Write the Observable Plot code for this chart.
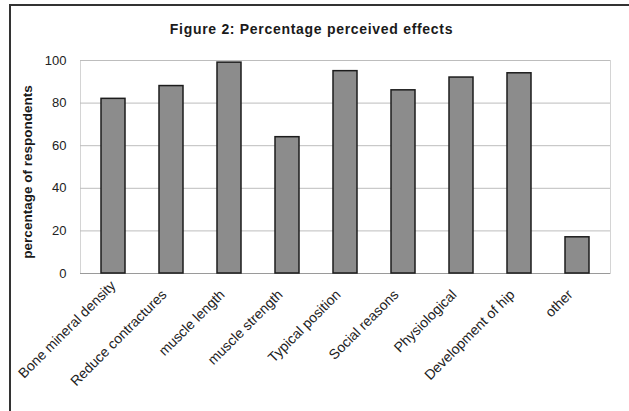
<!DOCTYPE html>
<html>
<head>
<meta charset="utf-8">
<script src="https://cdn.jsdelivr.net/npm/d3@7"></script>
<script src="https://cdn.jsdelivr.net/npm/@observablehq/plot@0.6"></script>
<style>
  html, body { margin: 0; padding: 0; background: #fff; }
  #wrap { position: relative; width: 629px; height: 411px; overflow: hidden; background: #fff; font-family: "Liberation Sans", Arial, sans-serif; }
  #border { position: absolute; left: 9px; top: 4px; width: 640px; height: 420px; border-left: 2px solid #333; border-top: 2px solid #333; box-sizing: border-box; }
  #title { position: absolute; left: 0; width: 623px; top: 21px; text-align: center; font-weight: bold; font-size: 14px; letter-spacing: 0.7px; color: #1a1a1a; }
  #chart { position: absolute; left: 0; top: 0; }
</style>
</head>
<body>
<div id="wrap">
  <div id="chart"></div>
  <div id="border"></div>
  <div id="title">Figure 2: Percentage perceived effects</div>
</div>
<script>
// Perceived effects and the share of respondents reporting each
const categories = [
  "Bone mineral density",
  "Reduce contractures",
  "muscle length",
  "muscle strength",
  "Typical position",
  "Social reasons",
  "Physiological",
  "Development of hip",
  "other"
];
const percentages = [82, 88, 99, 64, 95, 86, 92, 94, 17];
const yTicks = [0, 20, 40, 60, 80, 100];
const yLabel = "percentage of respondents";

const rows = categories.map((c, i) => ({category: c, value: percentages[i]}));
const font = "Liberation Sans, Arial, sans-serif";

const chart = Plot.plot({
  width: 629,
  height: 411,
  marginTop: 60,
  marginBottom: 138,
  marginLeft: 80,
  marginRight: 19,
  style: {fontFamily: font, background: "transparent", color: "#1a1a1a"},
  x: {domain: categories, paddingInner: 0.58, paddingOuter: 0.29, axis: null},
  y: {domain: [0, 100], ticks: yTicks, axis: null},
  marks: [
    Plot.frame({stroke: "#d4d4d4"}),
    Plot.gridY(yTicks, {stroke: "#bdbdbd", strokeOpacity: 1}),
    Plot.ruleY([0], {stroke: "#9a9a9a"}),
    Plot.barY(rows, {x: "category", y: "value", fill: "#8c8c8c", stroke: "#1c1c1c", strokeWidth: 1.5}),
    Plot.axisY(yTicks, {tickSize: 0, tickPadding: 14, fontSize: 13, label: null, fill: "#222"}),
    // rotated category labels; the first one is nudged up so it stays inside the border
    Plot.text(rows.slice(1), {
      x: "category", text: "category", frameAnchor: "bottom",
      rotate: -45, textAnchor: "end", dx: -4, dy: 22,
      fontSize: 14, fill: "#222", style: {letterSpacing: "0.5px"}
    }),
    Plot.text(rows.slice(0, 1), {
      x: "category", text: "category", frameAnchor: "bottom",
      rotate: -45, textAnchor: "end", dx: 3, dy: 13,
      fontSize: 14, fill: "#222", style: {letterSpacing: "0.5px"}
    }),
    Plot.text([yLabel], {
      frameAnchor: "left", dx: -53, dy: 5, rotate: -90, textAnchor: "middle",
      fontSize: 13.5, fontWeight: "bold", fill: "#1a1a1a", style: {letterSpacing: "1.3px"}
    })
  ]
});
document.getElementById("chart").appendChild(chart);
</script>
</body>
</html>
